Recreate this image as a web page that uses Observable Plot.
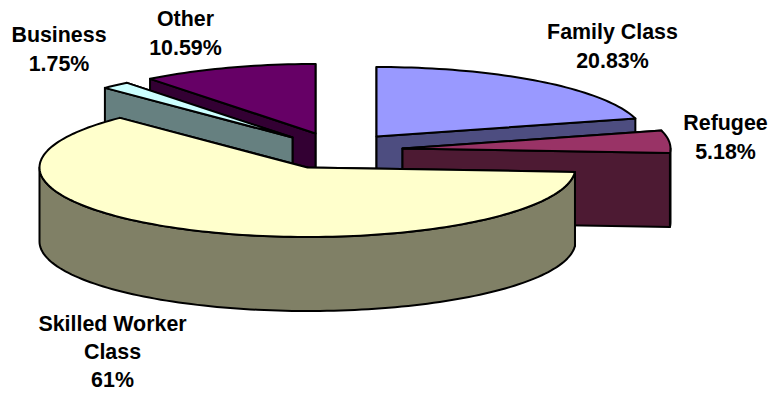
<!DOCTYPE html>
<html>
<head>
<meta charset="utf-8">
<script src="https://cdn.jsdelivr.net/npm/d3@7"></script>
<script src="https://cdn.jsdelivr.net/npm/@observablehq/plot@0.6"></script>
<style>html,body{margin:0;padding:0;background:#fff}svg{display:block}</style>
</head>
<body>
<div id="chart"></div>
<script>
// Data
const categories = ["Family Class", "Refugee", "Skilled Worker Class", "Business", "Other"];
const shares = [20.83, 5.18, 61.65, 1.75, 10.59];
const labels = ["Family Class\n20.83%", "Refugee\n5.18%", "Skilled Worker\nClass\n61%", "Business\n1.75%", "Other\n10.59%"];
const topColors = ["#9999ff", "#993366", "#ffffcc", "#ccffff", "#660066"];
const wallColors = ["#4d4d80", "#4d1a33", "#808066", "#668080", "#330033"];

// Layout of the exploded 3-D pie (in the plot's coordinate space)
const apexX = [376, 402, 307, 292, 315];
const apexY = [136, 148, 167, 137, 133];
const labelX = [612, 725, 112, 58.5, 185];
const labelY = [44, 135, 349.5, 47, 31];
const rx = 268, ry = 69.5, depth = 74;
const drawOrder = [0, 4, 3, 1, 2];

const total = d3.sum(shares);
const cum = d3.cumsum(shares);
const rad = a => a * Math.PI / 180;
const rim = (i, a) => ({x: apexX[i] + rx * Math.sin(rad(a)), y: apexY[i] - ry * Math.cos(rad(a))});
const arc = (i, a0, a1) => {
  const n = Math.max(1, Math.ceil(Math.abs(a1 - a0) / 1.5));
  return d3.range(n + 1).map(k => rim(i, a0 + (a1 - a0) * k / n));
};
const down = p => ({x: p.x, y: p.y + depth});

const points = [];
const add = (id, color, pts) => pts.forEach(p => points.push({id, color, x: p.x, y: p.y}));
for (const i of drawOrder) {
  const a1 = cum[i] / total * 360, a0 = a1 - shares[i] / total * 360;
  const apex = {x: apexX[i], y: apexY[i]};
  // cut faces, rear one first
  const faces = [a0, a1].sort((p, q) => Math.cos(rad(q)) - Math.cos(rad(p)));
  faces.forEach((a, k) => {
    const e = rim(i, a);
    add(`${categories[i]} face ${k}`, wallColors[i], [apex, e, down(e), down(apex)]);
  });
  // outer rim where it faces the viewer
  const r0 = Math.max(a0, 90), r1 = Math.min(a1, 270);
  if (r1 > r0) {
    const top = arc(i, r0, r1);
    add(`${categories[i]} rim`, wallColors[i], [...top, ...top.map(down).reverse()]);
  }
  // top surface
  add(`${categories[i]} top`, topColors[i], [apex, ...arc(i, a0, a1)]);
}

const labelRows = labels.map((text, i) => ({text, x: labelX[i], y: labelY[i]}));

const chart = Plot.plot({
  width: 770,
  height: 394,
  margin: 0,
  x: {domain: [0, 770], range: [0, 770], axis: null},
  y: {domain: [0, 394], range: [0, 394], axis: null},
  marks: [
    Plot.line(points, {
      x: "x", y: "y", z: "id", fill: "color",
      stroke: "#000", strokeWidth: 2, curve: "linear-closed"
    }),
    Plot.text(labelRows, {
      x: "x", y: "y", text: "text",
      fontFamily: "Liberation Sans, Arial, sans-serif",
      fontWeight: "bold", fontSize: 21.4, lineHeight: 1.32, fill: "#000"
    })
  ]
});
chart.style.background = "#fff";
document.getElementById("chart").append(chart);
</script>
</body>
</html>
